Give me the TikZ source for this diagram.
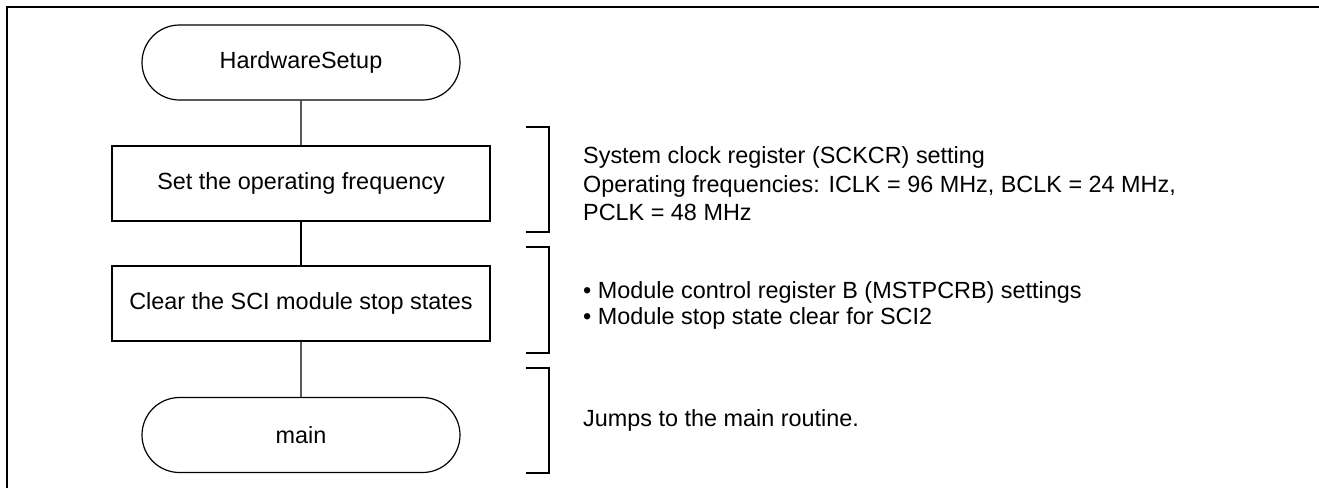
\documentclass[tikz,border=0pt]{standalone}
\usepackage{fontspec}
\setmainfont{Liberation Sans}
\usetikzlibrary{shapes.misc}
\begin{document}
\begin{tikzpicture}[x=1pt,y=-1pt,
  every node/.style={font=\fontsize{23.4}{28.5}\selectfont},
  term/.style={draw,line width=1.2pt,rounded rectangle,minimum width=318pt,minimum height=75pt,inner sep=0pt},
  proc/.style={draw,line width=1.2pt,rectangle,minimum width=378pt,minimum height=75pt,inner sep=0pt},
  conn/.style={line width=1.2pt},
  brk/.style={line width=1.1pt},
  note/.style={anchor=west,align=left,inner sep=0pt}]
\useasboundingbox (0,0) rectangle (1319,488);
\draw[line width=2.2pt] (7,488) -- (7,7.3) -- (1319,7.3);
\node[term] (hs) at (301,62.5) {HardwareSetup};
\node[proc] (f) at (301,183.5) {Set the operating frequency};
\node[proc] (c) at (301,303.5) {Clear the SCI module stop states};
\node[term] (m) at (301,435) {main};
\draw[conn] (hs) -- (f);
\draw[conn] (f) -- (c);
\draw[conn] (c) -- (m);
% brackets
\coordinate (b1a) at (526,127); \coordinate (b1b) at (526,232);
\coordinate (b2a) at (526,247); \coordinate (b2b) at (526,353);
\coordinate (b3a) at (526,368); \coordinate (b3b) at (526,473);
\draw[brk] (b1a) -| ([xshift=23pt]b1b) -- (b1b);
\draw[brk] (b2a) -| ([xshift=23pt]b2b) -- (b2b);
\draw[brk] (b3a) -| ([xshift=23pt]b3b) -- (b3b);
\node[note] (n1) at (583,184) {System clock register (SCKCR) setting\\Operating frequencies: ICLK = 96 MHz, BCLK = 24 MHz,\\PCLK = 48 MHz};
\node[note,font=\fontsize{23.4}{26}\selectfont] (n2) at (583,305) {\textbullet{} Module control register B (MSTPCRB) settings\\\textbullet{} Module stop state clear for SCI2};
\node[note] (n3) at (583,420) {Jumps to the main routine.};
\end{tikzpicture}
\end{document}
